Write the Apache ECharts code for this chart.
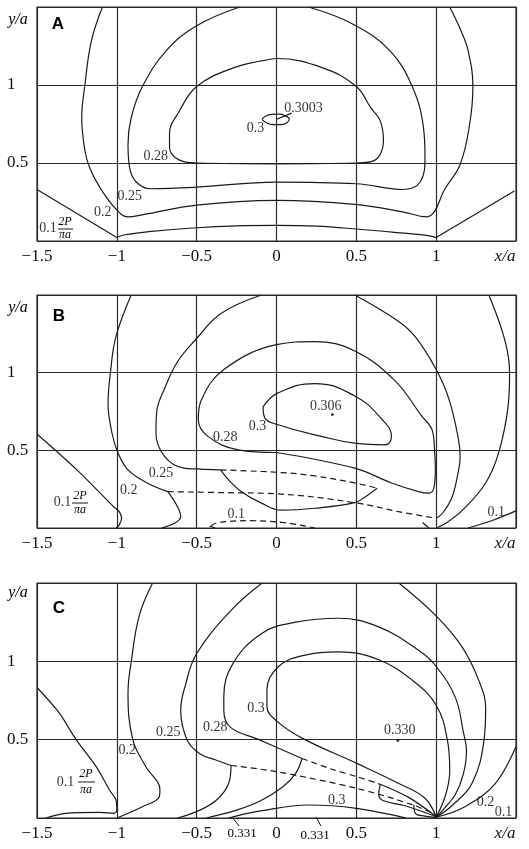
<!DOCTYPE html>
<html>
<head>
<meta charset="utf-8">
<script src="https://cdn.jsdelivr.net/npm/echarts@6/dist/echarts.min.js"></script>
<style>
html,body{margin:0;padding:0;background:#fff;}
#chart{width:529px;height:849px;}
</style>
</head>
<body>
<div id="chart"></div>
<script>
var serif = '"Liberation Serif","Times New Roman",serif';
var xTicks = [-1.5, -1, -0.5, 0, 0.5, 1, 1.5];
var yTicks = [0, 0.5, 1, 1.5];

// ---- panel A ----
var aC01a = [[-1.5,0.33],[-1.0,0.022]];
var aC01b = [[-1.0,0.022],[-0.95,0.04],[-0.8,0.06],[-0.5,0.085],[-0.25,0.097],[0,0.1],[0.25,0.095],[0.5,0.077],[0.8,0.05],[0.95,0.035],[1.0,0.022]];
var aC01c = [[1.0,0.022],[1.49,0.32]];
var aC02 = [[-1.09,1.5],[-1.16,1.28],[-1.2,1.0],[-1.22,0.79],[-1.2,0.58],[-1.17,0.47],[-1.11,0.35],[-1.01,0.21],[-0.93,0.155],[-0.84,0.168],[-0.5,0.23],[0,0.26],[0.49,0.235],[0.79,0.187],[0.94,0.155],[0.99,0.19],[1.05,0.325],[1.15,0.49],[1.21,0.75],[1.23,0.99],[1.2,1.22],[1.15,1.36],[1.085,1.5]];
var aC03 = [[-0.23,1.5],[-0.5,1.38],[-0.69,1.22],[-0.84,0.99],[-0.91,0.79],[-0.93,0.62],[-0.92,0.47],[-0.88,0.38],[-0.79,0.335],[-0.5,0.345],[0,0.378],[0.5,0.367],[0.79,0.33],[0.9,0.378],[0.93,0.54],[0.92,0.73],[0.85,0.99],[0.71,1.22],[0.48,1.39],[0.2,1.5]];
var aC04 = [[-0.065,1.16],[-0.27,1.11],[-0.5,0.99],[-0.61,0.83],[-0.67,0.69],[-0.67,0.6],[-0.61,0.52],[-0.5,0.5],[0,0.495],[0.5,0.5],[0.61,0.515],[0.67,0.64],[0.65,0.77],[0.59,0.855],[0.5,0.99],[0.29,1.11],[0,1.17],[-0.065,1.16]];
var aC05 = [[-0.09,0.78],[-0.07,0.8],[-0.03,0.812],[0.02,0.813],[0.06,0.8],[0.08,0.782],[0.065,0.758],[0.03,0.746],[-0.02,0.746],[-0.06,0.756],[-0.09,0.78]];
var aLead = [[0,0.78],[0.095,0.82]];
var aLabels = [[0.169,0.853,'0.3003'],[-0.131,0.72,'0.3'],[-0.756,0.541,'0.28'],[-0.919,0.287,'0.25'],[-1.0875,0.185,'0.2'],[-1.431,0.083,'0.1']];
var aDots = [];

// ---- panel B ----
var bC01 = [[-1.495,0.6],[-1.25,0.374],[-1.02,0.137],[-0.985,0.105],[-0.97,0.062],[-0.985,0.02],[-1.005,0]];
var bC02 = [[-0.91,1.5],[-1.006,1.23],[-1.04,1.0],[-1.055,0.8],[-1.03,0.61],[-0.995,0.49],[-0.93,0.374],[-0.81,0.29],[-0.68,0.234]];
var bC03 = [[-0.68,0.234],[-0.62,0.137],[-0.6,0.073],[-0.64,0.03],[-0.72,0]];
var bD01 = [[-0.68,0.234],[-0.35,0.228],[0,0.22],[0.49,0.163],[0.765,0.105],[1.0,0.063]];
var bC04 = [[-0.094,1.5],[-0.35,1.38],[-0.5,1.22],[-0.62,1.07],[-0.7,0.9],[-0.75,0.75],[-0.755,0.61],[-0.7,0.46],[-0.58,0.385],[-0.5,0.38],[-0.35,0.374]];
var bD02 = [[-0.35,0.374],[0.03,0.357],[0.24,0.335],[0.49,0.29],[0.63,0.256]];
var bC05 = [[-0.35,0.374],[-0.3,0.31],[-0.22,0.234],[-0.094,0.16],[0.03,0.115],[0.24,0.127],[0.49,0.163],[0.555,0.2],[0.63,0.256]];
var bC06 = [[0.49,1.5],[0.765,1.33],[0.87,1.23],[1.0,1.02],[1.08,0.83],[1.14,0.57],[1.15,0.45],[1.14,0.37],[1.1,0.2],[1.04,0.095],[1.0,0.063]];
var bC07 = [[1.33,1.5],[1.43,1.21],[1.46,1.0],[1.45,0.78],[1.39,0.48],[1.31,0.29],[1.17,0.12],[1.06,0.03],[1.0,0]];
var bC08 = [[0,0.486],[0.49,0.385],[0.72,0.29],[0.89,0.234],[0.955,0.224],[0.985,0.256],[0.995,0.374],[0.99,0.5],[0.975,0.63],[0.91,0.72],[0.74,0.95],[0.49,1.14],[0.24,1.2],[0,1.18],[-0.33,1.02],[-0.47,0.826],[-0.49,0.7],[-0.43,0.59],[-0.24,0.503],[0,0.486]];
var bC09 = [[-0.084,0.78],[0.01,0.87],[0.24,0.93],[0.49,0.85],[0.66,0.7],[0.72,0.59],[0.68,0.535],[0.49,0.546],[0.28,0.59],[0.01,0.665],[-0.074,0.71],[-0.084,0.78]];
var bD03 = [[-0.41,0.013],[-0.37,0.034],[-0.157,0.047],[0.05,0.034],[0.24,0]];
var bC10 = [[-0.385,0],[-0.42,0.013]];
var bC11 = [[0.915,0.035],[0.955,0]];
var bC12 = [[1.2,0],[1.356,0.05],[1.5,0.11]];
var bLabels = [[0.308,0.781,'0.306'],[-0.119,0.652,'0.3'],[-0.321,0.581,'0.28'],[-0.723,0.355,'0.25'],[-0.925,0.245,'0.2'],[-1.34,0.168,'0.1'],[-0.252,0.09,'0.1'],[1.377,0.103,'0.1']];
var bDots = [[0.35,0.73]];

// ---- panel C ----
var cC01 = [[-1.497,0.83],[-1.36,0.67],[-1.255,0.5],[-1.13,0.33],[-1.047,0.18],[-1.005,0.115],[-1.0,0.05],[-1.016,0.03],[-1.11,0.036],[-1.32,0.03],[-1.445,0]];
var cC02 = [[-0.776,1.5],[-0.86,1.29],[-0.91,0.995],[-0.93,0.8],[-0.9,0.5],[-0.82,0.33],[-0.73,0.18],[-0.734,0.136],[-0.84,0.072],[-1.0,0]];
var cC03 = [[-0.09,1.5],[-0.28,1.33],[-0.5,1.05],[-0.57,0.85],[-0.6,0.69],[-0.56,0.5],[-0.48,0.41],[-0.38,0.37],[-0.285,0.335]];
var cD01 = [[-0.285,0.335],[0,0.296],[0.5,0.19],[0.85,0.085],[1.0,0.02]];
var cC04 = [[-0.285,0.335],[-0.3,0.22],[-0.37,0.12],[-0.48,0.05],[-0.62,0]];
var cC05 = [[0.16,0.38],[-0.11,0.5],[-0.29,0.58],[-0.33,0.69],[-0.33,0.775],[-0.27,0.99],[-0.09,1.18],[0.12,1.25],[0.39,1.275],[0.64,1.22],[0.89,1.07],[1.0,0.967],[1.12,0.77],[1.17,0.55],[1.19,0.43],[1.17,0.28],[1.12,0.15],[1.05,0.06],[1.0,0.005]];
var cC06 = [[0.16,0.38],[0.12,0.285],[0.04,0.2],[-0.1,0.11],[-0.25,0.05],[-0.44,0]];
var cD02 = [[0.16,0.38],[0.35,0.31],[0.5,0.265],[0.65,0.215]];
var cC07 = [[0.65,0.215],[0.83,0.13],[1.0,0.01]];
var cC08 = [[0.65,0.215],[0.64,0.15],[0.67,0.11],[0.8,0.08],[1.0,0.008]];
var cC09 = [[0.86,0.085],[0.87,0.03],[0.93,0.012],[1.0,0.004]];
var cC10 = [[1.0,0.005],[0.93,0.126],[0.766,0.22],[0.5,0.35],[0.16,0.51],[0.0,0.62],[-0.06,0.71],[-0.06,0.82],[0.016,0.97],[0.18,1.04],[0.39,1.06],[0.64,1.01],[0.85,0.88],[1.0,0.72],[1.07,0.5],[1.085,0.3],[1.06,0.15],[1.0,0.005]];
var cC11 = [[0.766,1.5],[1.0,1.29],[1.16,1.095],[1.266,0.88],[1.31,0.7],[1.3,0.5],[1.224,0.22],[1.1,0.08],[1.0,0.005]];
var cC12 = [[1.5,0.456],[1.37,0.22],[1.18,0.072],[1.0,0.005]];
var cC13 = [[-0.3,0],[-0.1,0.045],[0.2,0.083],[0.5,0.062],[0.81,0]];
var cLabels = [[-0.128,0.703,'0.3'],[-0.384,0.581,'0.28'],[-0.678,0.55,'0.25'],[-0.934,0.435,'0.2'],[-1.322,0.23,'0.1'],[0.772,0.562,'0.330'],[0.378,0.115,'0.3'],[1.309,0.102,'0.2'],[1.422,0.038,'0.1']];
var cDots = [[0.76,0.494]];

var panels = [
	{top:7, height:234, curves:[
		{d:aC01a, s:false},{d:aC01b, s:0.4},{d:aC01c, s:false},{d:aC02, s:0.4},{d:aC03, s:0.4},{d:aC04, s:0.4},{d:aC05, s:0.5},{d:aLead, s:false}
	], labels:aLabels, dots:aDots},
	{top:295, height:233, curves:[
		{d:bC01, s:0.3},{d:bC02, s:0.4},{d:bC03, s:0.4},{d:bD01, s:0.4, dash:true},{d:bC04, s:0.4},{d:bD02, s:0.4, dash:true},
		{d:bC05, s:0.4},{d:bC06, s:0.4},{d:bC07, s:0.4},{d:bC08, s:0.4},{d:bC09, s:0.45},{d:bD03, s:0.4, dash:true},
		{d:bC10, s:false},{d:bC11, s:false},{d:bC12, s:0.3}
	], labels:bLabels, dots:bDots},
	{top:583, height:235, curves:[
		{d:cC01, s:0.3},{d:cC02, s:0.4},{d:cC03, s:0.4},{d:cD01, s:0.3, dash:true},{d:cC04, s:0.4},{d:cC05, s:0.4},
		{d:cC06, s:0.4},{d:cD02, s:0.3, dash:true},{d:cC07, s:0.3},{d:cC08, s:0.4},{d:cC09, s:0.4},{d:cC10, s:0.4},
		{d:cC11, s:0.4},{d:cC12, s:0.4},{d:cC13, s:0.4}
	], labels:cLabels, dots:cDots}
];

var grids = [], xAxes = [], yAxes = [], series = [];
panels.forEach(function(p, i){
	grids.push({left:37, right:13, top:p.top, height:p.height, show:true, borderColor:'#2a2a2a', borderWidth:1.2});
	xAxes.push({
		type:'value', gridIndex:i, min:xTicks[0], max:xTicks[xTicks.length-1], interval:0.5,
		axisLine:{show:false}, axisTick:{show:false},
		splitLine:{show:true, lineStyle:{color:'#2a2a2a', width:1.2}},
		axisLabel:{
			margin:7, color:'#111', fontFamily:serif, fontSize:17,
			formatter:function(v){
				if (v === 1.5) return '{i|x/a}';
				return v < 0 ? '\u2212' + (-v) : '' + v;
			},
			rich:{i:{fontStyle:'italic', fontFamily:serif, fontSize:17, color:'#111', padding:[0,22,0,0]}}
		}
	});
	yAxes.push({
		type:'value', gridIndex:i, min:yTicks[0], max:yTicks[yTicks.length-1], interval:0.5,
		axisLine:{show:false}, axisTick:{show:false},
		splitLine:{show:true, lineStyle:{color:'#2a2a2a', width:1.2}},
		axisLabel:{
			margin:30, align:'left', color:'#111', fontFamily:serif, fontSize:17,
			formatter:function(v){ return (v === 0.5 || v === 1) ? '' + v : ''; }
		}
	});
	p.curves.forEach(function(c){
		series.push({
			type:'line', xAxisIndex:i, yAxisIndex:i, data:c.d, symbol:'none', smooth:c.s,
			silent:true, animation:false,
			lineStyle:{color:'#1a1a1a', width:1.2, type:c.dash ? [6,4] : 'solid'}
		});
	});
	series.push({
		type:'scatter', xAxisIndex:i, yAxisIndex:i, data:p.labels, symbolSize:1,
		itemStyle:{color:'rgba(0,0,0,0)'}, silent:true, animation:false,
		label:{show:true, position:'inside', formatter:function(q){ return q.data[2]; },
			fontFamily:serif, fontSize:14, color:'#000', textBorderWidth:0, textBorderColor:'transparent'}
	});
	series.push({
		type:'scatter', xAxisIndex:i, yAxisIndex:i, data:p.dots, symbolSize:3,
		itemStyle:{color:'#111'}, silent:true, animation:false
	});
});

function txt(x, y, s, font){
	return {type:'text', x:x, y:y, silent:true, style:{text:s, font:font, fill:'#000',
		textAlign:'center', textVerticalAlign:'middle', align:'center', verticalAlign:'middle'}};
}
function seg(x1, y1, x2, y2){
	return {type:'line', silent:true, shape:{x1:x1, y1:y1, x2:x2, y2:y2}, style:{stroke:'#1a1a1a', lineWidth:1}};
}
var fracFont = 'italic 12px ' + serif;
var graphics = [
	txt(58,24,'A','bold 17px "Liberation Sans",Arial,sans-serif'),
	txt(59,316,'B','bold 17px "Liberation Sans",Arial,sans-serif'),
	txt(59,608,'C','bold 17px "Liberation Sans",Arial,sans-serif'),
	txt(18,20,'y/a','italic 16px ' + serif),
	txt(18,308,'y/a','italic 16px ' + serif),
	txt(18,593,'y/a','italic 16px ' + serif),
	txt(65,222,'2P',fracFont), seg(58,229,73,229), txt(65,235,'\u03c0a',fracFont),
	txt(80,496,'2P',fracFont), seg(72,503,88,503), txt(80,510,'\u03c0a',fracFont),
	txt(86,774,'2P',fracFont), seg(78,782,95,782), txt(86,790,'\u03c0a',fracFont),
	txt(242,834,'0.331','13px ' + serif), seg(232,817,239,826),
	txt(315,836,'0.331','13px ' + serif), seg(316,817,321,826)
];

var myChart = echarts.init(document.getElementById('chart'));
myChart.setOption({
	backgroundColor:'#fff',
	animation:false,
	grid:grids,
	xAxis:xAxes,
	yAxis:yAxes,
	series:series,
	graphic:graphics
});
</script>
</body>
</html>
